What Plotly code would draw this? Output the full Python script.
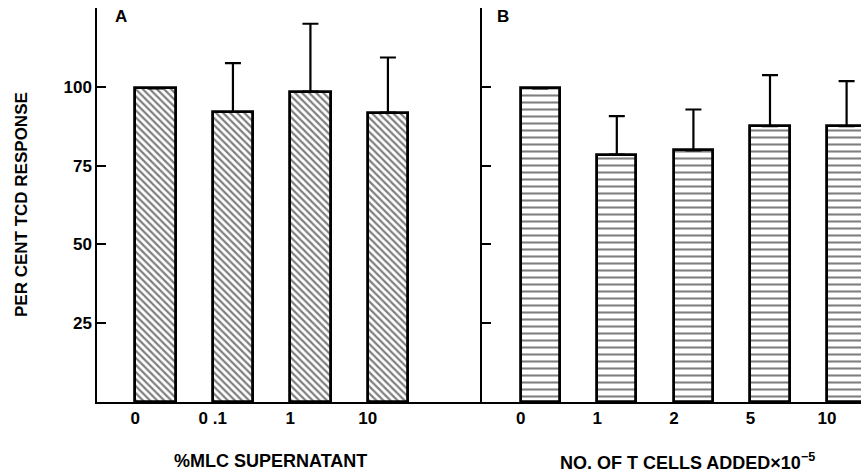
import plotly.graph_objects as go

# Panel A: % MLC supernatant
cats_a = ["0", "0 .1", "1", "10"]
vals_a = [99.5, 92.0, 98.5, 91.8]
err_a = [0, 15.5, 21.5, 17.5]

# Panel B: number of T cells added x10^-5
cats_b = ["0", "1", "2", "5", "10"]
vals_b = [99.5, 78.5, 79.8, 87.5, 87.5]
err_b = [0, 12.2, 13.0, 16.2, 14.3]

y_ticks = [25, 50, 75, 100]

W, H = 861, 473
FONT = "Liberation Sans"

def px(x):
    return x / W

def py(y):
    return 1 - y / H

pos_a = list(range(len(cats_a)))
pos_b = list(range(len(cats_b)))

fig = go.Figure()
fig.add_trace(go.Bar(
    x=pos_a, y=vals_a, width=0.52, offset=0,
    marker=dict(color="white", line=dict(color="black", width=2.8),
                pattern=dict(shape="\\", fgcolor="black", bgcolor="white", size=5, solidity=0.45)),
    error_y=dict(type="data", symmetric=False, array=err_a, arrayminus=[0]*len(err_a),
                 color="black", thickness=2.2, width=8),
    xaxis="x", yaxis="y", showlegend=False,
))
fig.add_trace(go.Bar(
    x=pos_b, y=vals_b, width=0.51, offset=0,
    marker=dict(color="white", line=dict(color="black", width=2.8),
                pattern=dict(shape="-", fgcolor="black", bgcolor="white", size=7, solidity=0.3)),
    error_y=dict(type="data", symmetric=False, array=err_b, arrayminus=[0]*len(err_b),
                 color="black", thickness=2.2, width=8),
    xaxis="x2", yaxis="y2", showlegend=False,
))

ydom = [py(402), py(8)]
tickfont = dict(family=FONT, size=17, color="black", weight="bold")

fig.update_layout(
    width=W, height=H,
    margin=dict(l=0, r=0, t=0, b=0),
    paper_bgcolor="white", plot_bgcolor="white",
    bargap=0,
    xaxis=dict(domain=[px(97), px(482)], range=[-0.494, 4.474],
               tickvals=pos_a, ticktext=cats_a, ticks="", showgrid=False, zeroline=False,
               showline=True, linecolor="black", linewidth=1.5, tickfont=tickfont),
    xaxis2=dict(domain=[px(482), 1], range=[-0.505, 4.443],
                tickvals=pos_b, ticktext=cats_b, ticks="", showgrid=False, zeroline=False,
                showline=True, linecolor="black", linewidth=1.5, tickfont=tickfont),
    yaxis=dict(domain=ydom, range=[0, 125], anchor="x",
               tickvals=y_ticks, ticks="inside", ticklen=9, tickwidth=1.5, tickcolor="black",
               showgrid=False, zeroline=False, showline=True, linecolor="black", linewidth=1.5,
               tickfont=tickfont),
    yaxis2=dict(domain=ydom, range=[0, 125], anchor="x2",
                tickvals=y_ticks, ticks="inside", ticklen=9, tickwidth=1.5, tickcolor="black",
                showticklabels=False, showgrid=False, zeroline=False,
                showline=True, linecolor="black", linewidth=1.5),
)

ann_font = dict(family=FONT, size=17, color="black", weight="bold")
title_font = dict(family=FONT, size=18, color="black", weight="bold")
ytitle_font = dict(family=FONT, size=17, color="black", weight="bold")
fig.add_annotation(x=px(121), y=py(17), xref="paper", yref="paper", text="A",
                   showarrow=False, font=ann_font, xanchor="center", yanchor="middle")
fig.add_annotation(x=px(503), y=py(17), xref="paper", yref="paper", text="B",
                   showarrow=False, font=ann_font, xanchor="center", yanchor="middle")
fig.add_annotation(x=px(270), y=py(461), xref="paper", yref="paper", text="%MLC SUPERNATANT",
                   showarrow=False, font=title_font, xanchor="center", yanchor="middle")
fig.add_annotation(x=px(687), y=py(461), xref="paper", yref="paper",
                   text="NO. OF T CELLS ADDED×10<sup>−5</sup>",
                   showarrow=False, font=title_font, xanchor="center", yanchor="middle")
fig.add_annotation(x=px(21), y=py(205), xref="paper", yref="paper", text="PER CENT TCD RESPONSE",
                   showarrow=False, textangle=-90, font=ytitle_font, xanchor="center", yanchor="middle")

fig.write_html("out.html")
